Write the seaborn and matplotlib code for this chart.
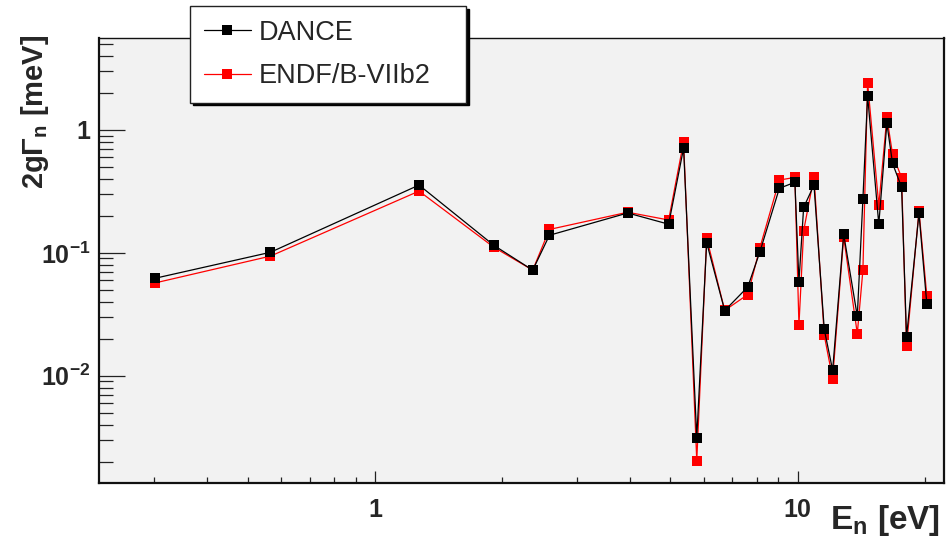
import numpy as np
import pandas as pd
import matplotlib
matplotlib.use("Agg")
import matplotlib.pyplot as plt
import matplotlib.ticker as mticker
import seaborn as sns

# ---- data ----
energy_ev = [0.302, 0.565, 1.27, 1.91, 2.36, 2.585, 3.96, 4.95, 5.37, 5.77,
             6.09, 6.72, 7.62, 8.14, 9.05, 9.85, 10.07, 10.33, 10.93, 11.56,
             12.1, 12.85, 13.84, 14.27, 14.64, 15.56, 16.26, 16.77, 17.62, 18.1,
             19.37, 20.22]
dance = [0.0622, 0.101, 0.356, 0.115, 0.0723, 0.139, 0.211, 0.171, 0.71, 0.00313,
         0.121, 0.0339, 0.0528, 0.102, 0.335, 0.375, 0.058, 0.234, 0.356, 0.0238,
         0.0111, 0.142, 0.0305, 0.274, 1.90, 0.171, 1.13, 0.535, 0.341, 0.0207,
         0.209, 0.038]
endf = [0.057, 0.094, 0.318, 0.111, 0.0723, 0.155, 0.214, 0.185, 0.80, 0.00204,
        0.132, 0.034, 0.0458, 0.110, 0.391, 0.411, 0.0258, 0.151, 0.417, 0.0213,
        0.00947, 0.135, 0.022, 0.0723, 2.42, 0.243, 1.27, 0.634, 0.409, 0.0174,
        0.220, 0.0444]
series_names = ["DANCE", "ENDF/B-VIIb2"]
x_ticks = [1, 10]
x_tick_labels = ["1", "10"]
y_ticks = [1e-2, 1e-1, 1]
y_tick_labels = [r"$10^{-2}$", r"$10^{-1}$", "1"]

df_dance = pd.DataFrame({"E": energy_ev, "G": dance})
df_endf = pd.DataFrame({"E": energy_ev, "G": endf})

sns.set_theme(style="ticks")
plt.rcParams["font.family"] = ["Liberation Sans", "DejaVu Sans"]
plt.rcParams["mathtext.fontset"] = "custom"
plt.rcParams["mathtext.rm"] = "Liberation Sans:bold"
plt.rcParams["mathtext.it"] = "Liberation Sans:bold"
plt.rcParams["mathtext.bf"] = "Liberation Sans:bold"

fig = plt.figure(figsize=(9.51, 5.37), dpi=100)
fig.patch.set_facecolor("white")
ax = fig.add_axes([99 / 951, 1 - 483 / 537, (944 - 99) / 951, (483 - 38) / 537])
ax.set_facecolor("#f2f2f2")

common = dict(marker="s", markersize=6.5, markeredgewidth=0, linewidth=0.9,
              estimator=None, sort=False, ax=ax)
sns.lineplot(data=df_endf, x="E", y="G", color="#ff0000", label=series_names[1], **common)
sns.lineplot(data=df_dance, x="E", y="G", color="black", label=series_names[0], **common)

ax.set_xscale("log")
ax.set_yscale("log")
ax.set_xlim(0.222, 22.2)
ax.set_ylim(1.34e-3, 5.6)

ax.xaxis.set_major_locator(mticker.FixedLocator(x_ticks))
ax.xaxis.set_major_formatter(mticker.FixedFormatter(x_tick_labels))
ax.xaxis.set_minor_locator(mticker.LogLocator(base=10, subs=np.arange(2, 10), numticks=20))
ax.xaxis.set_minor_formatter(mticker.NullFormatter())
ax.yaxis.set_major_locator(mticker.FixedLocator(y_ticks))
ax.yaxis.set_major_formatter(mticker.FixedFormatter(y_tick_labels))
ax.yaxis.set_minor_locator(mticker.LogLocator(base=10, subs=np.arange(2, 10), numticks=20))
ax.yaxis.set_minor_formatter(mticker.NullFormatter())

ax.tick_params(axis="both", which="both", direction="in", top=False, right=False,
               color="#222222")
ax.tick_params(axis="y", which="major", length=18.5, width=0.9, pad=6, labelsize=18)
ax.tick_params(axis="y", which="minor", length=10, width=0.9)
ax.tick_params(axis="x", which="major", length=8.6, width=0.9, pad=11, labelsize=18)
ax.tick_params(axis="x", which="minor", length=4.3, width=0.9)
for lab in ax.get_xticklabels() + ax.get_yticklabels():
    lab.set_fontweight("bold")

for side in ["left", "bottom", "right"]:
    ax.spines[side].set_linewidth(1.6)
    ax.spines[side].set_color("#111111")
ax.spines["top"].set_linewidth(1.0)
ax.spines["top"].set_color("#111111")
ax.set_xlabel("")
ax.set_ylabel("")

handles, labels = ax.get_legend_handles_labels()
order = [labels.index(n) for n in series_names]
leg = ax.legend([handles[i] for i in order], [labels[i] for i in order],
                loc="upper left",
                bbox_to_anchor=(190 / 951, 1 - 103 / 537, 276 / 951, 97 / 537),
                bbox_transform=fig.transFigure, mode="expand",
                fontsize=19.5, frameon=True, fancybox=False,
                shadow={"color": "black", "alpha": 1.0},
                borderaxespad=0, borderpad=0.5, handlelength=1.75,
                handletextpad=0.3, labelspacing=0.65)
leg.get_frame().set_edgecolor("#222222")
leg.get_frame().set_linewidth(1.0)
leg.get_frame().set_facecolor("white")
leg.get_frame().set_alpha(1.0)

fig.text(35 / 951, 1 - 35 / 537, "2gΓ$_n$ [meV]", rotation=90, ha="center", va="top",
         fontsize=21, fontweight="bold")
fig.text(940 / 951, 1 - 529 / 537, "E$_n$ [eV]", ha="right", va="baseline",
         fontsize=24, fontweight="bold")

fig.savefig("out.png", dpi=100, facecolor="white")
